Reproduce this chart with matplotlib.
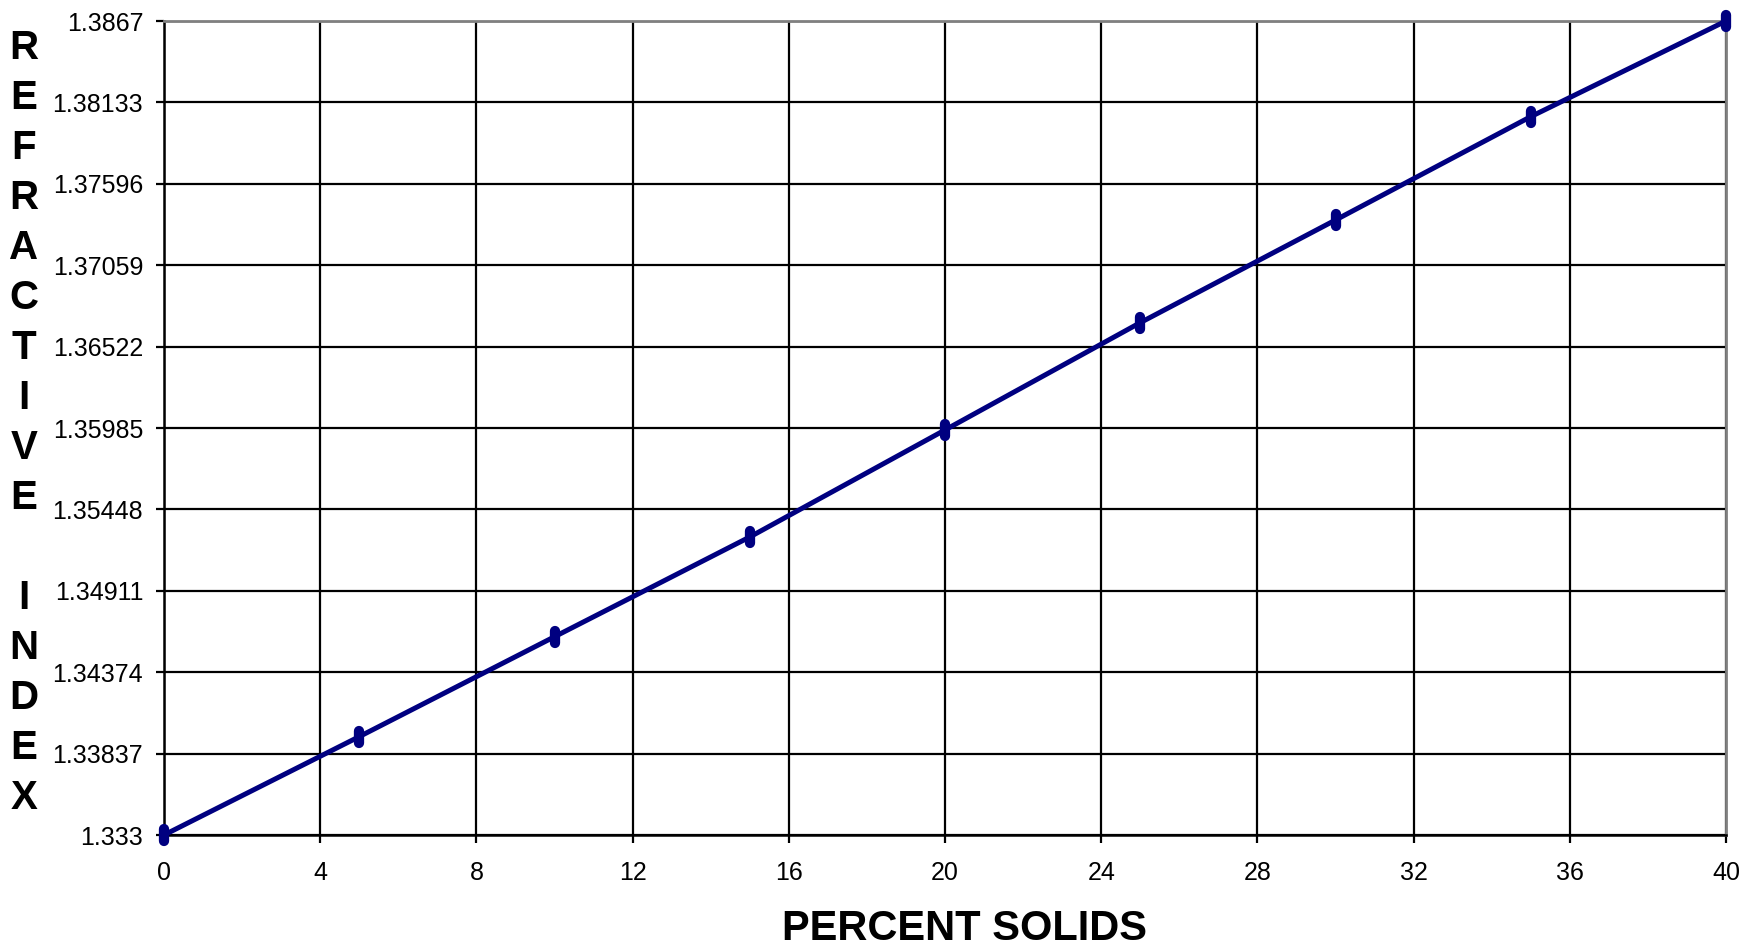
import matplotlib
matplotlib.use('Agg')
import matplotlib.pyplot as plt
from matplotlib.markers import MarkerStyle

plt.rcParams['font.family'] = ['Liberation Sans', 'DejaVu Sans']

#  refractive index, one point every 5 percent solids
percent_solids = [0, 5, 10, 15, 20, 25, 30, 35, 40]
refractive_index = [1.3330, 1.33949, 1.34608, 1.35266, 1.35972,
                    1.36680, 1.37357, 1.38039, 1.3867]

x_ticks = [0, 4, 8, 12, 16, 20, 24, 28, 32, 36, 40]
y_ticks = [1.333, 1.33837, 1.34374, 1.34911, 1.35448, 1.35985,
           1.36522, 1.37059, 1.37596, 1.38133, 1.3867]
y_tick_labels = ['1.333', '1.33837', '1.34374', '1.34911', '1.35448', '1.35985',
                 '1.36522', '1.37059', '1.37596', '1.38133', '1.3867']

fig = plt.figure(figsize=(17.42, 9.47), dpi=100)
ax1 = fig.add_axes([164 / 1742, 1 - 835 / 947, (1726 - 164) / 1742, (835 - 21) / 947])

marker = MarkerStyle('|', capstyle='round')
ax1.plot(percent_solids, refractive_index, color='#000080', linewidth=3.6,
         marker=marker, markersize=9, markeredgewidth=7.4,
         markeredgecolor='#000080', clip_on=False, zorder=5)

ax1.set_xlim(0, 40)
ax1.set_ylim(1.333, 1.3867)
ax1.set_xticks(x_ticks)
ax1.set_yticks(y_ticks)
ax1.set_yticklabels(y_tick_labels)
ax1.tick_params(axis='both', direction='out', length=6, width=1.6,
                labelsize=18, color='black')
ax1.tick_params(axis='y', pad=9)
ax1.tick_params(axis='x', pad=13)
ax1.grid(True, color='black', linewidth=1.6)

for side in ['top', 'right']:
    ax1.spines[side].set_color('#808080')
    ax1.spines[side].set_linewidth(2)
for side in ['bottom', 'left']:
    ax1.spines[side].set_color('black')
    ax1.spines[side].set_linewidth(1.8)

#  stacked y label, one letter per line like the original
letters = 'REFRACTIVE INDEX'
for i, ch in enumerate(letters):
    if ch == ' ':
        continue
    fig.text(24 / 1742, 1 - (48 + 50 * i) / 947, ch, ha='center', va='center',
             fontsize=29, fontweight='bold')

fig.text(964 / 1742, 1 - 929 / 947, 'PERCENT SOLIDS', ha='center', va='center',
         fontsize=30, fontweight='bold')

plt.savefig('out.png', dpi=100)
